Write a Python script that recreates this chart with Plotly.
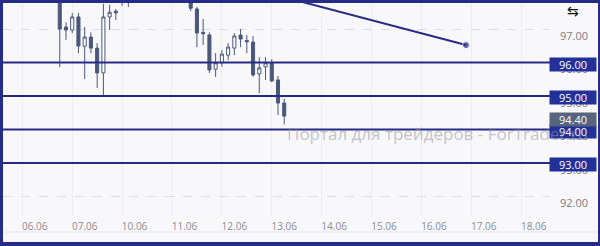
import plotly.graph_objects as go

# ---- data ----
day_labels = ["06.06", "07.06", "10.06", "11.06", "12.06", "13.06",
              "14.06", "15.06", "16.06", "17.06", "18.06"]
bars_per_day = 8

opens = [98.30, 98.20, 98.45, 98.20, 98.10, 97.06, 96.97, 97.36,
         96.49, 96.76, 96.43, 95.69, 97.36, 97.53, 97.90, 98.10,
         98.30, 98.55, 98.75, 98.50, 98.65, 98.45, 98.30, 98.40,
         98.20, 97.98, 97.60, 96.90, 96.82, 95.80, 95.99, 96.22,
         96.43, 96.82, 96.66, 96.61, 95.66, 95.87, 95.99, 95.48,
         94.79]
highs = [98.50, 98.60, 98.70, 98.40, 98.25, 97.20, 97.48, 97.48,
         97.06, 96.90, 96.58, 97.75, 97.72, 97.60, 98.30, 98.40,
         98.70, 98.90, 99.00, 98.80, 98.90, 98.60, 98.55, 98.60,
         98.40, 98.10, 97.66, 97.30, 96.90, 96.28, 96.37, 96.58,
         96.88, 97.00, 96.82, 96.79, 96.16, 96.16, 96.10, 95.60,
         94.91]
lows = [98.00, 98.00, 98.10, 97.95, 95.87, 96.67, 96.88, 96.28,
        95.51, 96.28, 95.24, 94.98, 96.97, 97.27, 97.69, 97.66,
        98.05, 98.30, 98.40, 98.20, 98.35, 98.10, 98.00, 98.05,
        97.95, 97.53, 96.46, 96.52, 95.69, 95.57, 95.87, 96.07,
        96.22, 96.46, 96.28, 95.57, 95.09, 95.48, 95.42, 94.43,
        94.15]
closes = [98.20, 98.45, 98.20, 98.10, 97.00, 96.97, 97.36, 96.49,
          96.76, 96.43, 95.69, 97.36, 97.50, 97.48, 98.10, 98.30,
          98.55, 98.75, 98.50, 98.65, 98.45, 98.30, 98.40, 98.20,
          98.05, 97.62, 96.88, 96.86, 95.78, 95.99, 96.25, 96.46,
          96.79, 96.70, 96.62, 95.63, 95.84, 95.99, 95.45, 94.79,
          94.40]

levels = [96.00, 95.00, 94.00, 93.00]
trend_x = [30.0, 69.15]
trend_y = [98.44, 96.52]
current_price = 94.40
y_ticks = [92, 93, 94, 95, 96, 97]

# ---- colours ----
NAVY = "#262c86"
CANDLE = "#4a587a"
BG = "#f8f8fb"

bar_idx = list(range(len(opens)))
day_ticks = [i * bars_per_day for i in range(len(day_labels))]
grid_ticks = [t - 2 for t in day_ticks]

fig = go.Figure()

fig.add_trace(go.Candlestick(
    x=bar_idx, open=opens, high=highs, low=lows, close=closes,
    increasing=dict(line=dict(color=CANDLE, width=1), fillcolor="#ffffff"),
    decreasing=dict(line=dict(color=CANDLE, width=1), fillcolor=CANDLE),
    whiskerwidth=0, showlegend=False, hoverinfo="skip",
))

fig.add_trace(go.Scatter(
    x=trend_x, y=trend_y, mode="lines+markers",
    line=dict(color=NAVY, width=2),
    marker=dict(color=NAVY, size=[0, 7]),
    showlegend=False, hoverinfo="skip",
))

# horizontal level lines
for lv in levels:
    fig.add_shape(type="line", xref="paper", yref="y", x0=0, x1=1,
                  y0=lv, y1=lv, line=dict(color=NAVY, width=2), layer="above")

# geometry helpers for frame (plot area: left 3, width 547, top 0, height 216)
L, W, T, H = 3, 547, 0, 216
def px(xp):
    return (xp - L) / W
def py(yp):
    return (T + H - yp) / H

# separator line at bottom
fig.add_shape(type="line", xref="paper", yref="paper",
              x0=px(3), x1=px(598), y0=py(232), y1=py(232),
              line=dict(color="#e4e4ea", width=1))
# frame
for (x0, x1, y0, y1) in [(0, 3, 0, 246), (0, 600, 0, 3), (598, 600, 0, 246), (0, 600, 242, 246)]:
    fig.add_shape(type="rect", xref="paper", yref="paper",
                  x0=px(x0), x1=px(x1), y0=py(y1), y1=py(y0),
                  fillcolor=NAVY, line=dict(width=0), layer="above")

annotations = []
for lv in levels:
    annotations.append(dict(
        text=f"{lv:.2f}", xref="paper", yref="y", x=px(549), y=lv,
        xanchor="left", yanchor="middle", yshift=-1.5, showarrow=False,
        font=dict(family="Open Sans", size=11, color="#ffffff"),
        bgcolor="#23309a", width=44, height=11, borderpad=1,
    ))
annotations.append(dict(
    text=f"{current_price:.2f}", xref="paper", yref="y", x=px(549), y=current_price,
    xanchor="left", yanchor="middle", yshift=-3, showarrow=False,
    font=dict(family="Open Sans", size=11, color="#ffffff"),
    bgcolor="#56647e", width=44, height=11, borderpad=1,
))
annotations.append(dict(
    text="Портал для трейдеров - ForTrader.ru", xref="paper", yref="paper",
    x=px(437), y=py(133), xanchor="center", yanchor="middle", showarrow=False,
    font=dict(family="Open Sans", size=17, color="rgba(150,150,160,0.55)"),
))
annotations.append(dict(
    text="⇆", xref="paper", yref="paper", x=px(573), y=py(11),
    xanchor="center", yanchor="middle", showarrow=False,
    font=dict(family="DejaVu Sans", size=14, color="#111111"),
))

fig.update_layout(
    width=600, height=246,
    margin=dict(l=L, r=600 - L - W, t=T, b=246 - T - H),
    paper_bgcolor=BG, plot_bgcolor=BG,
    annotations=annotations,
    xaxis=dict(
        range=[-5.1, 82.62], rangeslider=dict(visible=False),
        tickvals=day_ticks, ticktext=day_labels, ticks="",
        showgrid=False, zeroline=False, showline=False,
        tickfont=dict(family="Open Sans", size=10, color="#8c8c94"),
        ticklabelstandoff=3,
        minor=dict(tickvals=grid_ticks, showgrid=True, gridcolor="#eeeef2", gridwidth=1, ticks=""),
    ),
    yaxis=dict(
        side="right", range=[91.418, 97.866],
        tickvals=y_ticks, tickformat=".2f", ticks="",
        showgrid=True, gridcolor="#dcdce2", griddash="dash", gridwidth=1,
        zeroline=False, showline=False,
        tickfont=dict(family="Open Sans", size=11, color="#7c7c84"),
        ticklabelstandoff=9, ticklabelshift=7,
    ),
)

fig.write_html("out.html")
